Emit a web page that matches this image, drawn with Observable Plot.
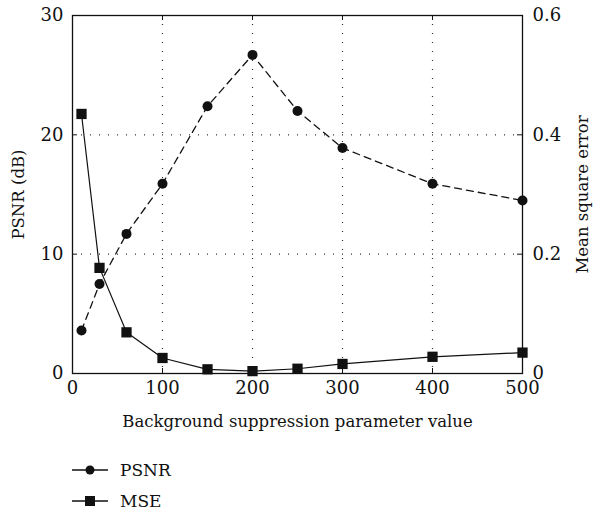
<!DOCTYPE html>
<html><head><meta charset="utf-8">
<script src="https://cdn.jsdelivr.net/npm/d3@7"></script>
<script src="https://cdn.jsdelivr.net/npm/@observablehq/plot@0.6"></script>
<style>
body{margin:0;background:#fff;font-family:'DejaVu Serif',serif;}
#legend{margin-left:72px;margin-top:14px;font-size:17px;color:#111;font-family:'DejaVu Serif',serif;}
.item{display:flex;align-items:center;height:31px;}
.item svg{margin-right:12px;}
</style>
</head><body>
<div id="chart"></div>
<div id="legend"></div>
<script>
const params = [10, 30, 60, 100, 150, 200, 250, 300, 400, 500];
const psnr = [3.6, 7.5, 11.7, 15.9, 22.4, 26.7, 22.0, 18.9, 15.9, 14.5];
const mse = [0.435, 0.177, 0.069, 0.026, 0.007, 0.004, 0.008, 0.016, 0.028, 0.035];
const xTicks = [0, 100, 200, 300, 400, 500];
const leftTicks = [0, 10, 20, 30];
const rightTicks = [0, 0.2, 0.4, 0.6];
const scale = 30 / 0.6;

const data = params.map((p, i) => ({p, psnr: psnr[i], mse: mse[i]}));
const font = "'DejaVu Serif',serif";

const chart = Plot.plot({
  width: 594, height: 440,
  marginLeft: 72, marginRight: 72, marginTop: 15, marginBottom: 67,
  style: {fontFamily: font, fontSize: "18px", color: "#111", background: "#fff"},
  x: {domain: [0, 500], ticks: xTicks, tickSize: 0, label: null},
  y: {domain: [0, 30], ticks: leftTicks, tickSize: 0, label: null},
  marks: [
    Plot.gridX(xTicks.slice(1, -1), {stroke: "#333", strokeOpacity: 1, strokeDasharray: "1,8", strokeWidth: 1.2}),
    Plot.gridY(leftTicks.slice(1, -1), {stroke: "#333", strokeOpacity: 1, strokeDasharray: "1,8", strokeWidth: 1.2}),
    Plot.tickX(xTicks, {x: d => d, stroke: "#111", insetTop: 353}),
    Plot.tickX(xTicks, {x: d => d, stroke: "#111", insetBottom: 353}),
    Plot.tickY(leftTicks, {y: d => d, stroke: "#111", insetRight: 445}),
    Plot.tickY(leftTicks, {y: d => d, stroke: "#111", insetLeft: 445}),
    Plot.axisX({ticks: xTicks, tickSize: 0, tickPadding: 8, label: null, fontSize: 18, fontFamily: font}),
    Plot.axisY({ticks: leftTicks, tickSize: 0, tickPadding: 9, label: null, fontSize: 18, fontFamily: font}),
    Plot.axisY(rightTicks.map(v => v * scale), {anchor: "right", tickSize: 0, tickPadding: 10, tickFormat: (d) => String(+(d / scale).toFixed(1)), label: null, fontSize: 18, fontFamily: font}),
    Plot.frame({stroke: "#111", strokeWidth: 1.3}),
    Plot.line(data, {x: "p", y: "psnr", stroke: "#111", strokeWidth: 1.3, strokeDasharray: "7,5"}),
    Plot.line(data, {x: "p", y: d => d.mse * scale, stroke: "#111", strokeWidth: 1.2}),
    Plot.dot(data, {x: "p", y: "psnr", r: 5, fill: "#111", stroke: "none"}),
    Plot.dot(data, {x: "p", y: d => d.mse * scale, r: 5.8, symbol: "square", fill: "#111", stroke: "none"}),
    Plot.text(["Background suppression parameter value"], {frameAnchor: "bottom", dy: 48, lineAnchor: "middle", textAnchor: "middle", fontSize: 16.5, fontFamily: font}),
    Plot.text(["PSNR (dB)"], {frameAnchor: "left", dx: -54, rotate: -90, lineAnchor: "middle", textAnchor: "middle", fontSize: 16.5, fontFamily: font}),
    Plot.text(["Mean square error"], {frameAnchor: "right", dx: 60, rotate: -90, lineAnchor: "middle", textAnchor: "middle", fontSize: 16.5, fontFamily: font})
  ]
});
document.getElementById("chart").appendChild(chart);

const legendItems = [{label: "PSNR", symbol: "circle"}, {label: "MSE", symbol: "square"}];
const leg = document.getElementById("legend");
for (const it of legendItems) {
  const div = document.createElement("div");
  div.className = "item";
  const mark = it.symbol === "circle"
    ? '<circle cx="18" cy="8" r="4.5" fill="#111"/>'
    : '<rect x="13" y="3" width="10" height="10" fill="#111"/>';
  div.innerHTML = `<svg width="36" height="16"><line x1="0" x2="36" y1="8" y2="8" stroke="#111" stroke-width="1.3"/>${mark}</svg><span>${it.label}</span>`;
  leg.appendChild(div);
}
</script>
</body></html>
